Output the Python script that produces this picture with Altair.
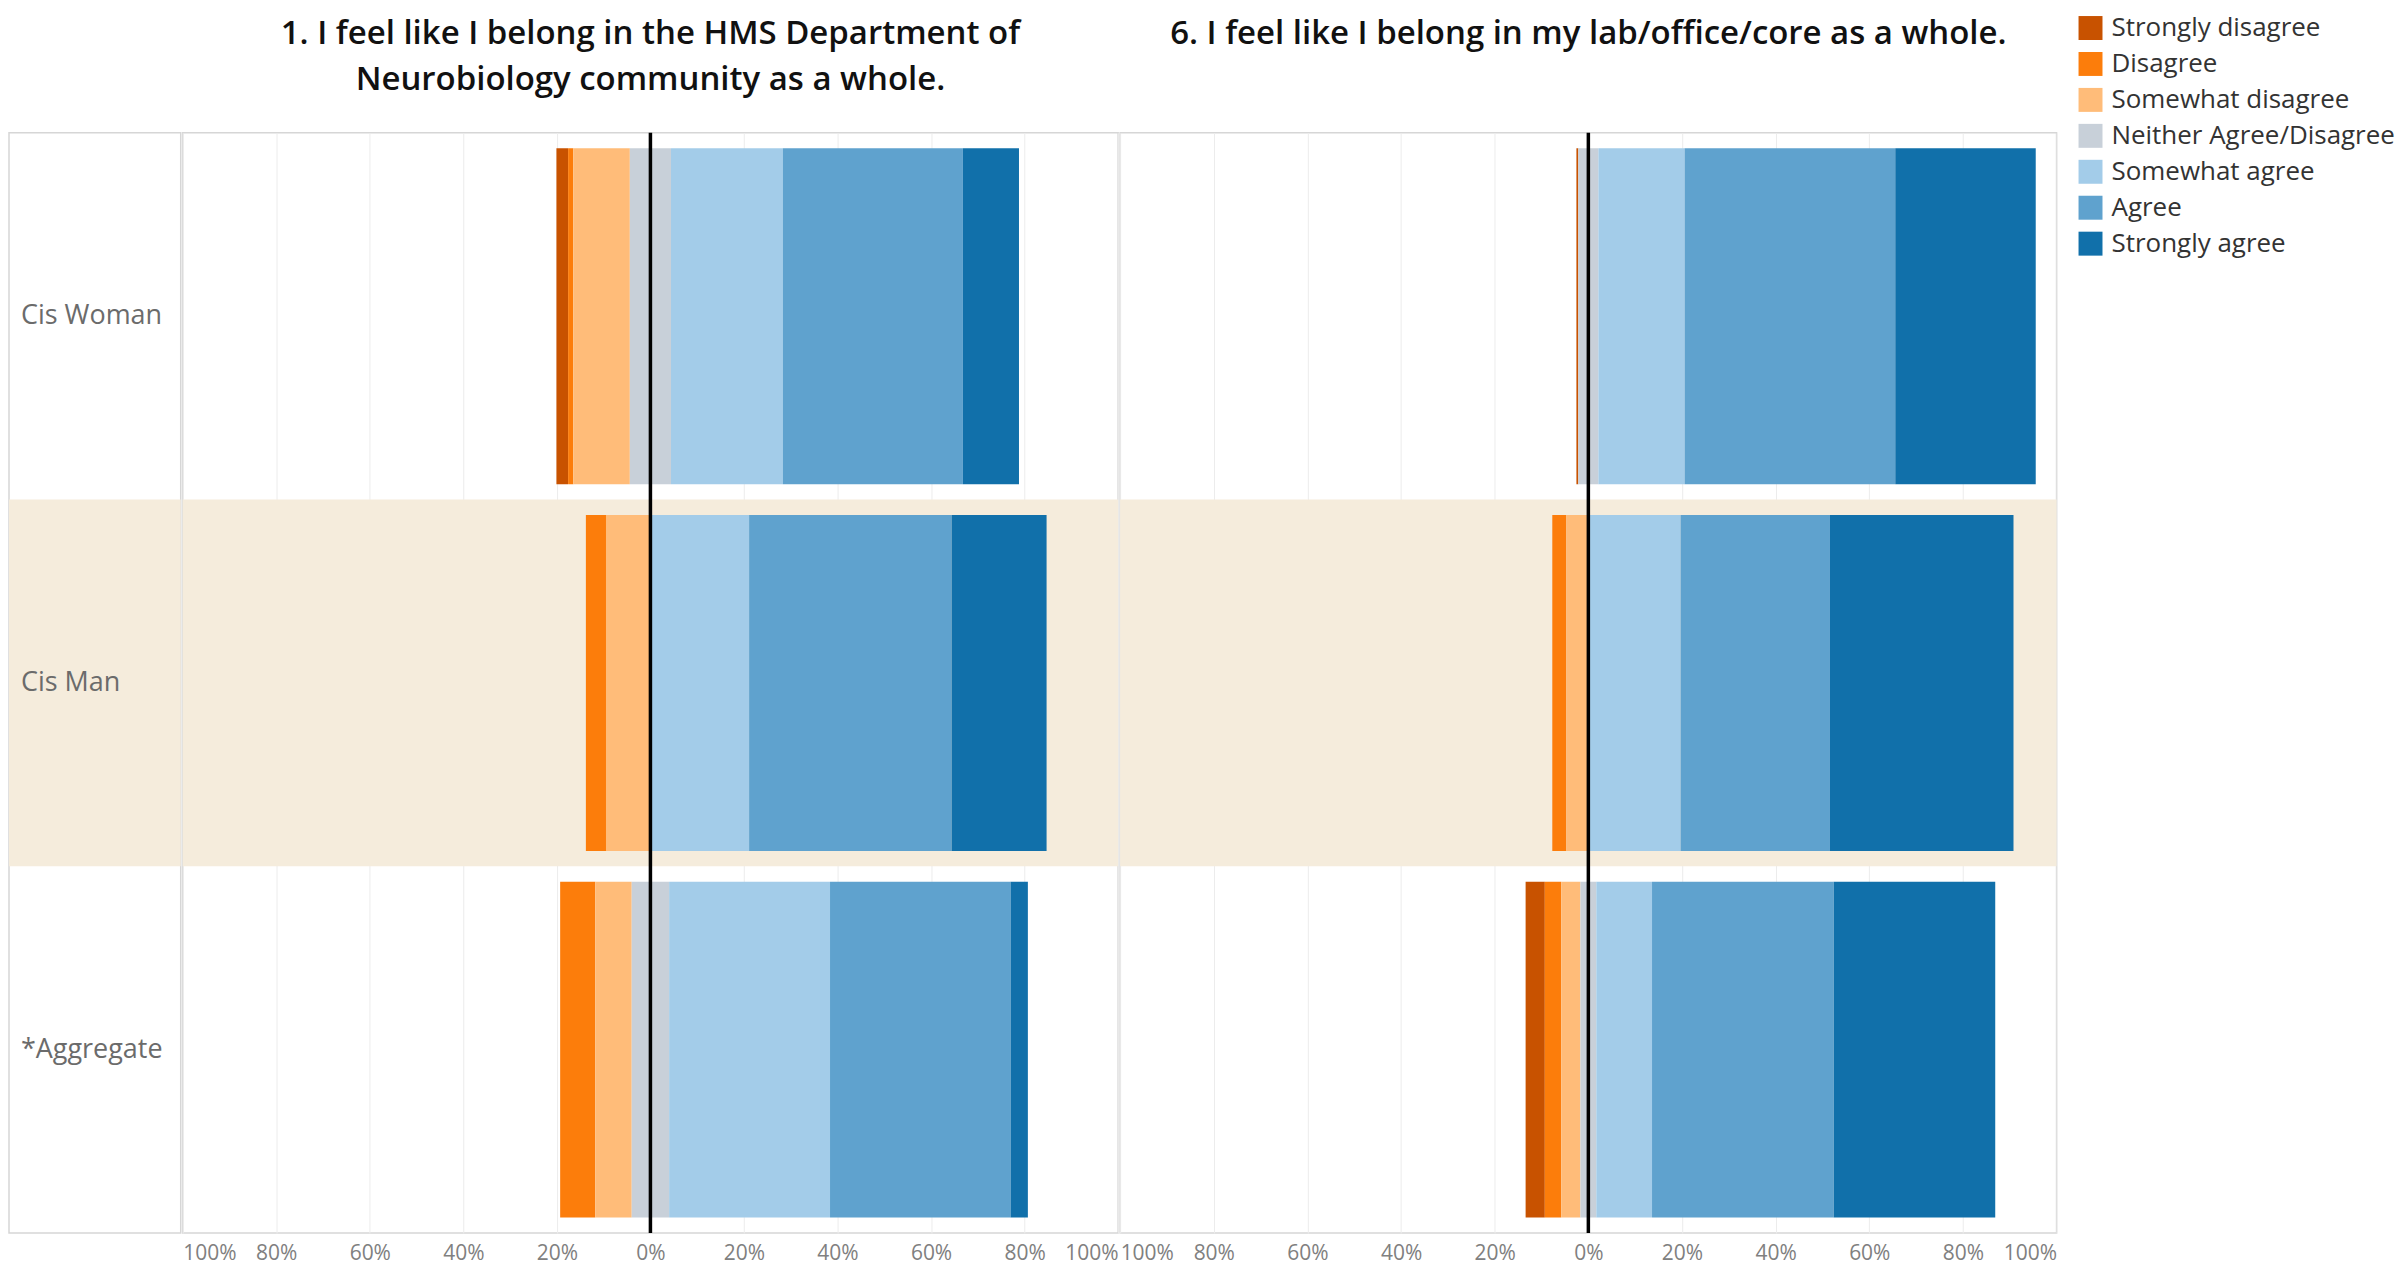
import altair as alt
import pandas as pd

# ---------------- data ----------------
categories = [
    "Strongly disagree",
    "Disagree",
    "Somewhat disagree",
    "Neither Agree/Disagree",
    "Somewhat agree",
    "Agree",
    "Strongly agree",
]
colors = ["#c85200", "#fc7d0b", "#ffbc79", "#c8d0d9", "#a3cce9", "#5fa2ce", "#1170aa"]
groups = ["Cis Woman", "Cis Man", "*Aggregate"]

q1_title = ["1. I feel like I belong in the HMS Department of",
            "Neurobiology community as a whole."]
q6_title = ["6. I feel like I belong in my lab/office/core as a whole.", " "]

# percentages per response category (order of `categories`)
q1_cis_woman = [2.5, 1.1, 12.1, 8.8, 23.9, 38.5, 12.0]
q1_cis_man = [0.0, 4.3, 9.5, 0.0, 21.1, 43.3, 20.3]
q1_aggregate = [0.0, 7.5, 7.8, 8.0, 34.4, 38.6, 3.7]

q6_cis_woman = [0.4, 0.0, 0.0, 4.3, 18.4, 45.0, 30.0]
q6_cis_man = [0.0, 3.0, 4.7, 0.0, 19.7, 31.9, 39.2]
q6_aggregate = [4.1, 3.5, 4.1, 3.4, 11.9, 38.8, 34.5]

tick_values = [-100, -80, -60, -40, -20, 0, 20, 40, 60, 80, 100]
banded_group = ["Cis Man"]

# ---------------- styling ----------------
BAND = "#f5ecdc"
FONT = "Open Sans"
PLOT_H = 1102


def diverging(rows):
    recs = []
    for g, vals in zip(groups, rows):
        start = -(vals[0] + vals[1] + vals[2] + vals[3] / 2.0)
        for c, v in zip(categories, vals):
            if v > 0:
                recs.append(dict(group=g, category=c, start=start, end=start + v, pct=v))
            start += v
    return pd.DataFrame(recs)


df_q1 = diverging([q1_cis_woman, q1_cis_man, q1_aggregate])
df_q6 = diverging([q6_cis_woman, q6_cis_man, q6_aggregate])
band_df = pd.DataFrame({"group": banded_group, "x0": [-100], "x1": [100]})
zero_df = pd.DataFrame({"x": [0]})
label_df = pd.DataFrame({"group": groups})

y_enc = alt.Y(
    "group:N",
    sort=groups,
    scale=alt.Scale(domain=groups, paddingInner=0, paddingOuter=0),
    axis=None,
)
x_scale = alt.Scale(domain=[-100, 100], nice=False, zero=False)
x_axis = alt.Axis(
    values=tick_values,
    labelExpr="abs(datum.value) + '%'",
    title=None,
    ticks=False,
    domain=False,
    grid=True,
    gridColor="#ececec",
    gridWidth=1,
    labelFlush=True,
    labelFontSize=21,
    labelFont=FONT,
    labelColor="#808080",
    labelPadding=10,
)
legend = alt.Legend(
    title=None,
    orient="none",
    legendX=2072,
    legendY=-118,
    symbolType="square",
    symbolSize=576,
    symbolStrokeWidth=0,
    labelFontSize=26,
    labelFont=FONT,
    labelColor="#333333",
    labelLimit=400,
    labelOffset=8,
    rowPadding=10,
)
color_enc = alt.Color(
    "category:N",
    sort=categories,
    scale=alt.Scale(domain=categories, range=colors),
    legend=legend,
)


def make_title(lines):
    return alt.TitleParams(
        lines,
        anchor="middle",
        frame="group",
        fontSize=33,
        font=FONT,
        fontWeight=600,
        color="#111111",
        lineHeight=46,
        offset=34,
    )


def panel(df, title, width):
    band = alt.Chart(band_df).mark_rect(color=BAND).encode(
        y=y_enc,
        x=alt.X("x0:Q", scale=x_scale, axis=x_axis),
        x2="x1:Q",
    )
    bars = alt.Chart(df).mark_bar(height=alt.RelativeBandSize(0.916)).encode(
        y=y_enc,
        x=alt.X("start:Q", scale=x_scale, axis=x_axis),
        x2="end:Q",
        color=color_enc,
        tooltip=["group", "category", "pct"],
    )
    zero = alt.Chart(zero_df).mark_rule(color="black", strokeWidth=3.5).encode(
        x=alt.X("x:Q", scale=x_scale, axis=x_axis),
    )
    return alt.layer(band, bars, zero).properties(
        width=width, height=PLOT_H, title=make_title(title)
    )


label_band = alt.Chart(band_df).mark_rect(color=BAND).encode(y=y_enc)
label_text = alt.Chart(label_df).mark_text(
    align="left", baseline="middle", fontSize=27, font=FONT, color="#6b6b6b"
).encode(y=y_enc, text="group:N", x=alt.value(12))
label_panel = alt.layer(label_band, label_text).properties(
    width=172, height=PLOT_H, title=make_title([" ", " "])
)

chart = (
    alt.hconcat(
        label_panel,
        panel(df_q1, q1_title, 937),
        panel(df_q6, q6_title, 938),
        spacing=0,
    )
    .properties(padding={"left": 0, "top": 6, "right": 0, "bottom": 0})
    .configure_view(stroke="#d6d6d6", strokeWidth=1.5)
)

chart.save("out.html", embed_options={"renderer": "svg", "actions": False})
